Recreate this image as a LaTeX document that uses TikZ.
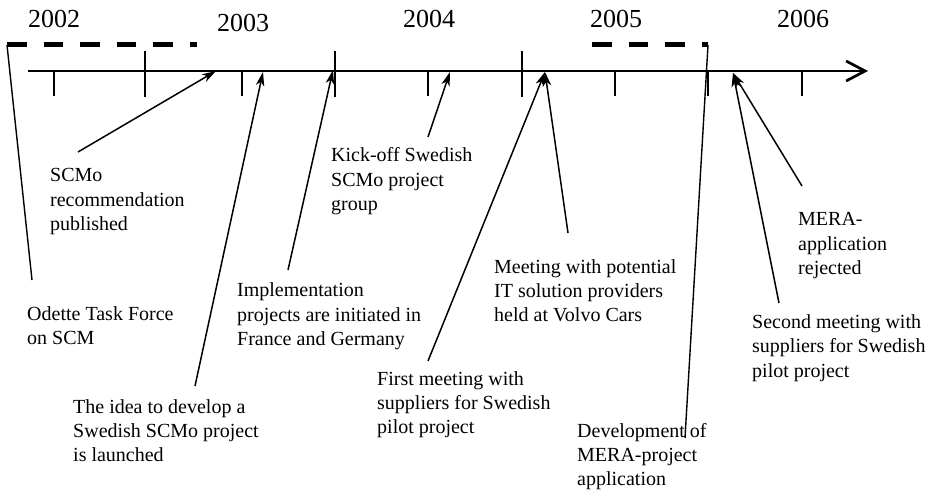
\documentclass[tikz,border=0pt]{standalone}
\usepackage{fontspec}
\setmainfont{Liberation Serif}
\usetikzlibrary{arrows.meta}
\newcommand\lblock[1]{\begin{tabular}[t]{@{}l@{}}#1\end{tabular}}
\begin{document}
\begin{tikzpicture}[x=1pt,y=-1pt,
  label/.style={anchor=base west,inner sep=0pt,
    font=\fontsize{20}{24.3}\selectfont},
  yearlbl/.style={anchor=base west,inner sep=0pt,
    font=\fontsize{26}{30}\selectfont},
  axisline/.style={line width=2.7pt,-{Straight Barb[length=19pt,width=20pt]}},
  tickline/.style={line width=1.5pt},
  period/.style={line width=5pt,dash pattern=on 19.5pt off 17pt},
  pointer/.style={line width=1.5pt,-{Stealth[length=14pt,width=8.5pt,inset=4pt]}},
  plainlink/.style={line width=1.4pt}]
\useasboundingbox (0,0) rectangle (926,494);

% years
\node[yearlbl] (y2002) at (28,28) {2002};
\node[yearlbl] (y2003) at (217,32) {2003};
\node[yearlbl] (y2004) at (403,28) {2004};
\node[yearlbl] (y2005) at (590,28) {2005};
\node[yearlbl] (y2006) at (777,28) {2006};

% time axis
\coordinate (axS) at (28,71);
\coordinate (axE) at (868,71);
\draw[axisline] (axS) -- (axE);

% ticks
\foreach \x in {54,242,428,615,708,802}
  \draw[tickline] (\x,71) -- (\x,96);
\foreach \x in {145,335,522}
  \draw[tickline] (\x,51) -- (\x,97);

% periods
\coordinate (barA) at (7,45);
\coordinate (barAend) at (197,45);
\coordinate (barB) at (592,45);
\coordinate (barBend) at (708,45);
\draw[period] (barA) -- (barAend);
\draw[period] (barB) -- (barBend);

% labels
\node[label] (scmo) at (50,182) {\lblock{SCMo\\recommendation\\published}};
\node[label] (odette) at (27,320.5) {\lblock{Odette Task Force\\on SCM}};
\node[label] (idea) at (73,413) {\lblock{The idea to develop a\\Swedish SCMo project\\is launched}};
\node[label] (impl) at (237,297) {\lblock{Implementation\\projects are initiated in\\France and Germany}};
\node[label] (kick) at (331,162) {\lblock{Kick-off Swedish\\SCMo project\\group}};
\node[label] (meet) at (494,273) {\lblock{Meeting with potential\\IT solution providers\\held at Volvo Cars}};
\node[label] (first) at (377,385) {\lblock{First meeting with\\suppliers for Swedish\\pilot project}};
\node[label] (dev) at (577,437) {\lblock{Development of\\MERA-project\\application}};
\node[label] (second) at (752,328.5) {\lblock{Second meeting with\\suppliers for Swedish\\pilot project}};
\node[label] (mera) at (798,226) {\lblock{MERA-\\application\\rejected}};

% connector ends
\coordinate (odT) at (32,280);
\coordinate (devT) at (685,438);
\coordinate (scmoT) at (78,152);   \coordinate (scmoH) at (216,71);
\coordinate (ideaT) at (195,386);  \coordinate (ideaH) at (263,72);
\coordinate (implT) at (288,270);  \coordinate (implH) at (333,70);
\coordinate (kickT) at (428,137);  \coordinate (kickH) at (450,72);
\coordinate (firstT) at (428,361); \coordinate (meetH) at (545,72);
\coordinate (meetT) at (568,233);
\coordinate (secondT) at (779,303); \coordinate (secondH) at (733,73);
\coordinate (meraT) at (802,186);

% connectors
\draw[plainlink] (barA) -- (odT);
\draw[plainlink] (barBend) -- (devT);
\draw[pointer] (scmoT) -- (scmoH);
\draw[pointer] (ideaT) -- (ideaH);
\draw[pointer] (implT) -- (implH);
\draw[pointer] (kickT) -- (kickH);
\draw[pointer] (firstT) -- (meetH);
\draw[pointer] (meetT) -- (meetH);
\draw[pointer] (secondT) -- (secondH);
\draw[pointer] (meraT) -- (secondH);
\end{tikzpicture}
\end{document}
